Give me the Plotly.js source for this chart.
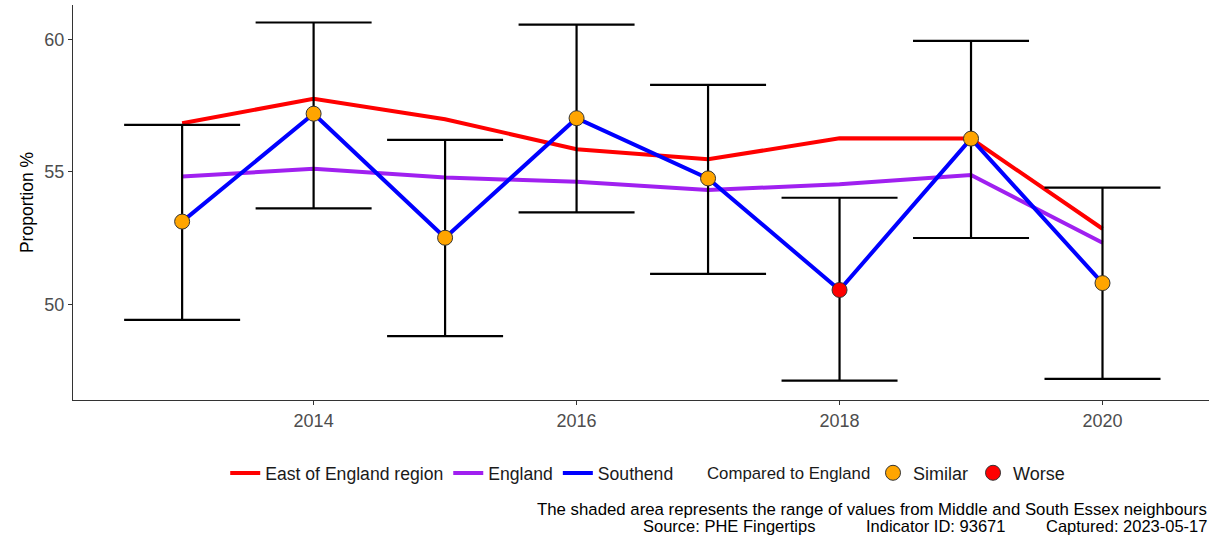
<!DOCTYPE html>
<html>
<head>
<meta charset="utf-8">
<script src="https://cdn.plot.ly/plotly-3.0.1.min.js"></script>
<style>html,body{margin:0;padding:0;background:#fff;}#chart{width:1209px;height:541px;}</style>
</head>
<body>
<div id="chart"></div>
<script>
const years = [2013, 2014, 2015, 2016, 2017, 2018, 2019, 2020];
const southend = [53.12, 57.19, 52.51, 57.02, 54.75, 50.54, 56.25, 50.80];
const southendUpper = [56.77, 60.63, 56.20, 60.55, 58.28, 54.02, 59.94, 54.40];
const southendLower = [49.41, 53.62, 48.80, 53.47, 51.15, 47.12, 52.50, 47.19];
const eastOfEngland = [56.83, 57.75, 56.98, 55.85, 55.47, 56.26, 56.25, 52.85];
const england = [54.82, 55.11, 54.78, 54.62, 54.31, 54.53, 54.88, 52.32];
const comparison = ['Similar', 'Similar', 'Similar', 'Similar', 'Similar', 'Worse', 'Similar', 'Similar'];
const compareLevels = ['Similar', 'Worse'];
const compareColours = {Similar: '#FFA500', Worse: '#FF0000'};
const compareTitle = 'Compared to England';
const captionLine1 = 'The shaded area represents the range of values from Middle and South Essex neighbours';
const captionParts = ['Source: PHE Fingertips', 'Indicator ID: 93671', 'Captured: 2023-05-17'];

const font = 'Liberation Sans, Arial, sans-serif';

const traces = [
  {x: years, y: eastOfEngland, type: 'scatter', mode: 'lines', name: 'East of England region',
   line: {color: '#FF0000', width: 4}, legend: 'legend'},
  {x: years, y: england, type: 'scatter', mode: 'lines', name: 'England',
   line: {color: '#A020F0', width: 4}, legend: 'legend'},
  {x: years, y: southend, type: 'scatter', mode: 'markers', showlegend: false, hoverinfo: 'skip',
   marker: {size: 1, color: 'rgba(0,0,0,0)'},
   error_y: {type: 'data', symmetric: false,
     array: southendUpper.map((u, i) => u - southend[i]),
     arrayminus: southendLower.map((l, i) => southend[i] - l),
     color: '#000000', thickness: 2.2, width: 58}},
  {x: years, y: southend, type: 'scatter', mode: 'lines', name: 'Southend',
   line: {color: '#0000FF', width: 4}, legend: 'legend'}
];
compareLevels.forEach(level => {
  const idx = comparison.map((c, i) => c === level ? i : -1).filter(i => i >= 0);
  traces.push({
    x: idx.map(i => years[i]), y: idx.map(i => southend[i]), type: 'scatter', mode: 'markers',
    name: level, legend: 'legend2',
    marker: {size: 15, color: compareColours[level], line: {color: '#333333', width: 1}}
  });
});

const capFont = {size: 16.5, color: '#000000', family: font};
const layout = {
  width: 1209, height: 541,
  margin: {l: 73, r: 0, t: 5, b: 141},
  paper_bgcolor: '#ffffff', plot_bgcolor: '#ffffff',
  font: {family: font, color: '#1a1a1a'},
  showlegend: true,
  xaxis: {range: [2012.17, 2020.81], tickvals: [2014, 2016, 2018, 2020], ticks: 'outside', ticklen: 4,
    tickcolor: '#333333', showline: true, linecolor: '#333333', linewidth: 1, showgrid: false, zeroline: false,
    tickfont: {size: 18, color: '#4d4d4d', family: font}},
  yaxis: {range: [46.39, 61.29], tickvals: [50, 55, 60], ticks: 'outside', ticklen: 4,
    tickcolor: '#333333', showline: true, linecolor: '#333333', linewidth: 1, showgrid: false, zeroline: false,
    tickfont: {size: 18, color: '#4d4d4d', family: font},
    title: {text: 'Proportion %', font: {size: 17.5, color: '#000000', family: font}, standoff: 6}},
  legend: {orientation: 'h', x: 0.134, xanchor: 'left', y: -0.185, yanchor: 'middle',
    font: {size: 17.6, color: '#1a1a1a', family: font}, bgcolor: 'rgba(0,0,0,0)', itemwidth: 30,
    tracegroupgap: 0},
  legend2: {orientation: 'h', x: (873 - 73) / 1136, xanchor: 'left', y: -0.185, yanchor: 'middle',
    font: {size: 18, color: '#1a1a1a', family: font}, bgcolor: 'rgba(0,0,0,0)'},
  annotations: [
    {xref: 'paper', yref: 'paper', x: (705 - 73) / 1136, y: -0.185, xanchor: 'left', yanchor: 'middle', showarrow: false,
     text: compareTitle, font: {size: 16.8, color: '#1a1a1a', family: font}},
    {xref: 'paper', yref: 'paper', x: 1.0, y: -0.277, xanchor: 'right', yanchor: 'middle', showarrow: false,
     align: 'right', text: captionLine1, font: {size: 16.8, color: '#000000', family: font}},
    {xref: 'paper', yref: 'paper', x: (641 - 73) / 1136, y: -0.32, xanchor: 'left', yanchor: 'middle', showarrow: false,
     text: captionParts[0], font: capFont},
    {xref: 'paper', yref: 'paper', x: (864 - 73) / 1136, y: -0.32, xanchor: 'left', yanchor: 'middle', showarrow: false,
     text: captionParts[1], font: capFont},
    {xref: 'paper', yref: 'paper', x: 1.0, y: -0.32, xanchor: 'right', yanchor: 'middle', showarrow: false,
     text: captionParts[2], font: capFont}
  ]
};

Plotly.newPlot('chart', traces, layout, {displayModeBar: false, staticPlot: true});
</script>
</body>
</html>
